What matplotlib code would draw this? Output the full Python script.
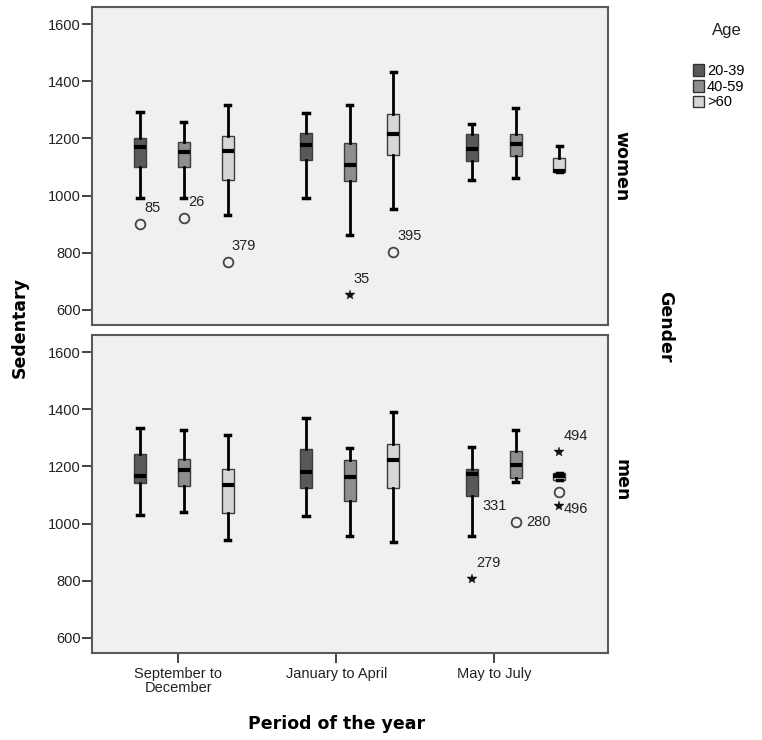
import matplotlib
matplotlib.use('Agg')
import matplotlib.pyplot as plt
from matplotlib.patches import Patch

periods = ['September to\nDecember', 'January to April', 'May to July']
ages = ['20-39', '40-59', '>60']
genders = ['women', 'men']

# five-number summaries, one value per box, order: period x age
women_whislo = [992, 992, 931, 992, 863, 953, 1053, 1060, 1083]
women_q1 = [1099, 1100, 1056, 1123, 1050, 1143, 1120, 1140, 1083]
women_med = [1169, 1151, 1157, 1176, 1108, 1214, 1164, 1180, 1087]
women_q3 = [1203, 1186, 1210, 1219, 1183, 1286, 1217, 1215, 1131]
women_whishi = [1291, 1259, 1318, 1289, 1317, 1432, 1250, 1308, 1175]

men_whislo = [1030, 1041, 941, 1028, 958, 936, 958, 1147, 1153]
men_q1 = [1141, 1130, 1038, 1124, 1078, 1126, 1095, 1159, 1153]
men_med = [1165, 1188, 1136, 1179, 1164, 1224, 1175, 1206, 1165]
men_q3 = [1244, 1227, 1192, 1260, 1222, 1280, 1190, 1254, 1178]
men_whishi = [1336, 1328, 1310, 1371, 1265, 1392, 1267, 1328, 1178]

# outliers ('o') and extremes ('*') with case numbers
women_out_box = [0, 1, 2, 4, 5]
women_out_val = [902, 922, 766, 651, 803]
women_out_mark = ['o', 'o', 'o', '*', 'o']
women_out_id = ['85', '26', '379', '35', '395']

men_out_box = [6, 6, 7, 8, 8, 8]
men_out_val = [1060, 806, 1007, 1252, 1109, 1063]
men_out_mark = ['', '*', 'o', '*', 'o', '*']
men_out_id = ['331', '279', '280', '494', '', '496']

age_colors = ['#595959', '#8e8e8e', '#d6d6d6']
label_off = {'280': (11, 0), '331': (11, 0), '496': (4, -3)}

REG = ['Liberation Sans', 'DejaVu Sans']
BOLD = dict(family='DejaVu Sans', fontweight='bold', fontsize=12.5)

group_pos = [0.035, 1.085, 2.135]
offsets = [-0.277, 0, 0.277]
positions = [g + o for g in group_pos for o in offsets]

fig = plt.figure(figsize=(7.62, 7.40), dpi=100)
W, H = 762, 740
ax_top = fig.add_axes([92 / W, 1 - 325 / H, 516 / W, 318 / H])
ax_bot = fig.add_axes([92 / W, 1 - 653 / H, 516 / W, 318 / H])

panels = [
    (ax_top, women_whislo, women_q1, women_med, women_q3, women_whishi,
     women_out_box, women_out_val, women_out_mark, women_out_id),
    (ax_bot, men_whislo, men_q1, men_med, men_q3, men_whishi,
     men_out_box, men_out_val, men_out_mark, men_out_id),
]

for ax, lo, q1, med, q3, hi, ob, ov, om, oid in panels:
    stats = [dict(whislo=lo[i], q1=q1[i], med=med[i], q3=q3[i], whishi=hi[i], fliers=[])
             for i in range(len(lo))]
    bp = ax.bxp(stats, positions=positions, widths=0.076, capwidths=0.034,
                patch_artist=True, showfliers=False,
                boxprops=dict(edgecolor='#3c3c3c', linewidth=1),
                whiskerprops=dict(color='black', linewidth=2),
                capprops=dict(color='black', linewidth=2.5),
                medianprops=dict(color='black', linewidth=3, solid_capstyle='butt'))
    for i, box in enumerate(bp['boxes']):
        box.set_facecolor(age_colors[i % 3])

    for b, v, m, cid in zip(ob, ov, om, oid):
        x = positions[b]
        if m == 'o':
            ax.plot(x, v, 'o', ms=7, mfc='none', mec='#444444', mew=1.3, zorder=4)
        elif m == '*':
            ax.plot(x, v, '*', ms=7, color='#111111', mew=0.3, zorder=4)
        if cid:
            dx, dy = label_off.get(cid, (4, 16))
            ax.annotate(cid, (x, v), xytext=(dx, dy), textcoords='offset pixels',
                        ha='left', va='center', fontsize=10.5, family=REG, color='#222222')

    ax.set_facecolor('#f0f0f0')
    ax.set_xlim(-0.546, 2.72)
    ax.set_ylim(547, 1660)
    ax.set_yticks([600, 800, 1000, 1200, 1400, 1600])
    for sp in ax.spines.values():
        sp.set_color('#5a5a5a')
        sp.set_linewidth(1.5)
    ax.tick_params(axis='y', length=7, width=1.3, color='#333333', pad=1,
                   labelsize=10.5, labelcolor='#222222')
    for t in ax.get_yticklabels():
        t.set_family(REG)

ax_top.set_xticks([])
ax_bot.set_xticks([0, 1, 2])
ax_bot.set_xticklabels(periods, family=REG, fontsize=10.5, color='#222222', linespacing=1.0)
ax_bot.tick_params(axis='x', length=7, width=1.3, color='#333333', pad=3)

fig.text(20 / W, 1 - 327 / H, 'Sedentary', rotation=90, ha='center', va='center', **BOLD)
fig.text(337 / W, 1 - 724 / H, 'Period of the year', ha='center', va='center', **BOLD)
fig.text(621 / W, 1 - 166 / H, genders[0], rotation=-90, ha='center', va='center', **BOLD)
fig.text(621 / W, 1 - 480 / H, genders[1], rotation=-90, ha='center', va='center', **BOLD)
fig.text(665 / W, 1 - 327 / H, 'Gender', rotation=-90, ha='center', va='center', **BOLD)

# legend: title placed on its own, items below
fig.text(727 / W, 1 - 30 / H, 'Age', ha='center', va='center', family=REG,
         fontsize=12, color='#222222')
handles = [Patch(facecolor=c, edgecolor='#333333', linewidth=1) for c in age_colors]
fig.legend(handles, ages, loc='upper left', bbox_to_anchor=(693 / W, 1 - 64 / H),
           frameon=False, handlelength=0.75, handleheight=0.85, handletextpad=0.2,
           labelspacing=0.12, borderaxespad=0, borderpad=0,
           prop=dict(family=REG, size=10.5))

fig.savefig('out.png', dpi=100, facecolor='white')
